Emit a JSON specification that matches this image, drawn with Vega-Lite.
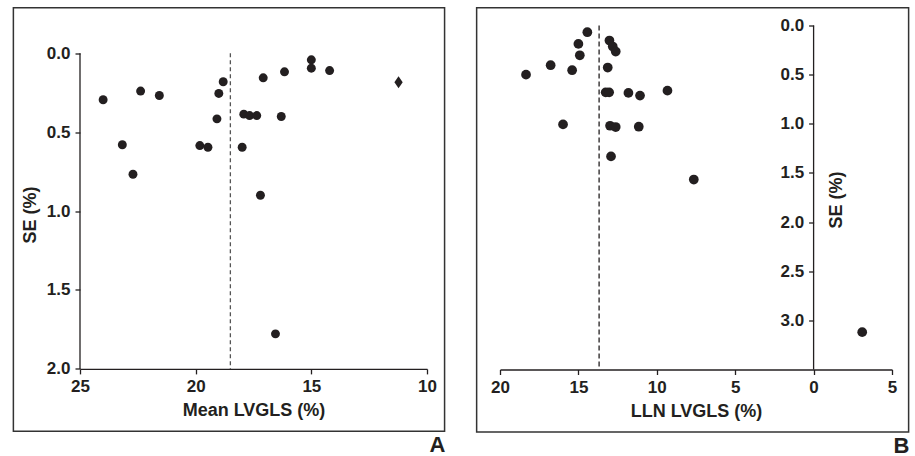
{
  "$schema": "https://vega.github.io/schema/vega-lite/v6.json",
  "padding": {"left": 12, "top": 6.5, "right": 5, "bottom": 0},
  "background": "white",
  "spacing": 29,
  "datasets": {
    "a": [
      {"mean": 24.0, "se": 0.295, "kind": "study"},
      {"mean": 23.17, "se": 0.58, "kind": "study"},
      {"mean": 22.71, "se": 0.767, "kind": "study"},
      {"mean": 22.38, "se": 0.24, "kind": "study"},
      {"mean": 21.57, "se": 0.268, "kind": "study"},
      {"mean": 19.82, "se": 0.585, "kind": "study"},
      {"mean": 19.47, "se": 0.596, "kind": "study"},
      {"mean": 19.08, "se": 0.416, "kind": "study"},
      {"mean": 19.0, "se": 0.255, "kind": "study"},
      {"mean": 18.81, "se": 0.181, "kind": "study"},
      {"mean": 17.99, "se": 0.596, "kind": "study"},
      {"mean": 17.92, "se": 0.386, "kind": "study"},
      {"mean": 17.67, "se": 0.395, "kind": "study"},
      {"mean": 17.36, "se": 0.395, "kind": "study"},
      {"mean": 17.2, "se": 0.9, "kind": "study"},
      {"mean": 17.08, "se": 0.156, "kind": "study"},
      {"mean": 16.55, "se": 1.778, "kind": "study"},
      {"mean": 16.3, "se": 0.401, "kind": "study"},
      {"mean": 16.16, "se": 0.118, "kind": "study"},
      {"mean": 15.0, "se": 0.042, "kind": "study"},
      {"mean": 15.0, "se": 0.095, "kind": "study"},
      {"mean": 14.21, "se": 0.11, "kind": "study"},
      {"mean": 11.23, "se": 0.184, "kind": "outlier"}
    ],
    "b": [
      {"lln": 14.43, "se": 0.068},
      {"lln": 13.02, "se": 0.153},
      {"lln": 12.81, "se": 0.214},
      {"lln": 12.62, "se": 0.265},
      {"lln": 15.0, "se": 0.187},
      {"lln": 14.91, "se": 0.303},
      {"lln": 16.77, "se": 0.404},
      {"lln": 15.4, "se": 0.455},
      {"lln": 18.34, "se": 0.5},
      {"lln": 13.13, "se": 0.428},
      {"lln": 13.26, "se": 0.68},
      {"lln": 13.04, "se": 0.68},
      {"lln": 11.81, "se": 0.686},
      {"lln": 11.07, "se": 0.713},
      {"lln": 9.32, "se": 0.663},
      {"lln": 15.98, "se": 1.006},
      {"lln": 12.98, "se": 1.02},
      {"lln": 12.62, "se": 1.033},
      {"lln": 11.15, "se": 1.03},
      {"lln": 12.92, "se": 1.332},
      {"lln": 7.64, "se": 1.567},
      {"lln": -3.1, "se": 3.12}
    ],
    "pooledA": [{"mean": 18.5, "se": 0, "se2": 2}],
    "pooledB": [{"lln": 13.68, "se": 0, "se2": 3.5}],
    "yaxisA": [{"mean": 25, "se": 0, "se2": 2}],
    "yaxisB": [{"lln": 0, "se": 0, "se2": 3.5}],
    "frameA": [{"mean": 27.88, "mean2": 9.24, "se": -0.288, "se2": 2.395}],
    "frameB": [{"lln": 21.49, "lln2": -6.06, "se": -0.18, "se2": 4.136}]
  },
  "hconcat": [
    {
      "width": 347,
      "height": 343.4,
      "title": {"text": "A", "orient": "bottom", "anchor": "end", "fontSize": 22, "fontWeight": "bold", "font": "Liberation Sans", "color": "#231f20", "offset": 3},
      "encoding": {
        "x": {
          "field": "mean", "type": "quantitative", "title": "Mean LVGLS (%)",
          "scale": {"domain": [10, 25], "reverse": true, "nice": false, "zero": false},
          "axis": {"values": [25, 20, 15, 10], "format": "d"}
        },
        "y": {
          "field": "se", "type": "quantitative", "title": "SE (%)",
          "scale": {"domain": [-0.1755, 2], "reverse": true, "nice": false, "zero": false},
          "axis": {"values": [0, 0.5, 1, 1.5, 2], "format": ".1f", "domain": false, "titleY": 189}
        }
      },
      "layer": [
        {
          "data": {"name": "a"},
          "mark": {"type": "point", "filled": true, "opacity": 1, "color": "#231f20"},
          "encoding": {
            "shape": {
              "field": "kind", "type": "nominal",
              "scale": {"domain": ["study", "outlier"], "range": ["circle", "M-0.7,0L0,-1L0.7,0L0,1Z"]},
              "legend": null
            },
            "size": {
              "field": "kind", "type": "nominal",
              "scale": {"domain": ["study", "outlier"], "range": [80, 140]},
              "legend": null
            }
          }
        },
        {
          "data": {"name": "frameA"},
          "mark": {"type": "rect", "filled": false, "stroke": "#333333", "strokeWidth": 1.5, "clip": false},
          "encoding": {"x2": {"field": "mean2"}, "y2": {"field": "se2"}}
        },
        {
          "data": {"name": "yaxisA"},
          "mark": {"type": "rule", "color": "#231f20", "strokeWidth": 1.3},
          "encoding": {"y2": {"field": "se2"}}
        },
        {
          "data": {"name": "pooledA"},
          "mark": {"type": "rule", "strokeDash": [4, 3], "color": "#555555", "strokeWidth": 1.3},
          "encoding": {"y2": {"field": "se2"}}
        }
      ]
    },
    {
      "width": 392,
      "height": 344,
      "title": {"text": "B", "orient": "bottom", "anchor": "end", "fontSize": 22, "fontWeight": "bold", "font": "Liberation Sans", "color": "#231f20", "offset": 3},
      "encoding": {
        "x": {
          "field": "lln", "type": "quantitative", "title": "LLN LVGLS (%)",
          "scale": {"domain": [-5, 20], "reverse": true, "nice": false, "zero": false},
          "axis": {"values": [20, 15, 10, 5, 0, -5], "labelExpr": "'' + abs(datum.value)"}
        },
        "y": {
          "field": "se", "type": "quantitative", "title": "SE (%)",
          "scale": {"domain": [0, 3.5], "reverse": true, "nice": false, "zero": false},
          "axis": {"values": [0, 0.5, 1, 1.5, 2, 2.5, 3], "format": ".1f", "domain": false, "offset": -313.6, "titleX": 23, "titleY": 174, "titleBaseline": "middle"}
        }
      },
      "layer": [
        {
          "data": {"name": "b"},
          "mark": {"type": "circle", "opacity": 1, "color": "#231f20", "size": 95}
        },
        {
          "data": {"name": "frameB"},
          "mark": {"type": "rect", "filled": false, "stroke": "#333333", "strokeWidth": 1.5, "clip": false},
          "encoding": {"x2": {"field": "lln2"}, "y2": {"field": "se2"}}
        },
        {
          "data": {"name": "yaxisB"},
          "mark": {"type": "rule", "color": "#231f20", "strokeWidth": 1.3},
          "encoding": {"y2": {"field": "se2"}}
        },
        {
          "data": {"name": "pooledB"},
          "mark": {"type": "rule", "strokeDash": [5, 3], "color": "#231f20", "strokeWidth": 1.3},
          "encoding": {"y2": {"field": "se2"}}
        }
      ]
    }
  ],
  "config": {
    "font": "Liberation Sans",
    "view": {"stroke": null},
    "axis": {
      "grid": false,
      "labelFlush": false,
      "domainColor": "#231f20",
      "domainWidth": 1.3,
      "tickColor": "#231f20",
      "tickWidth": 1.3,
      "tickSize": 5,
      "labelFont": "Liberation Sans",
      "labelFontSize": 17,
      "labelFontWeight": "bold",
      "labelColor": "#231f20",
      "labelPadding": 5,
      "titleFont": "Liberation Sans",
      "titleFontSize": 18,
      "titleFontWeight": "bold",
      "titleColor": "#231f20",
      "titlePadding": 7
    }
  }
}
